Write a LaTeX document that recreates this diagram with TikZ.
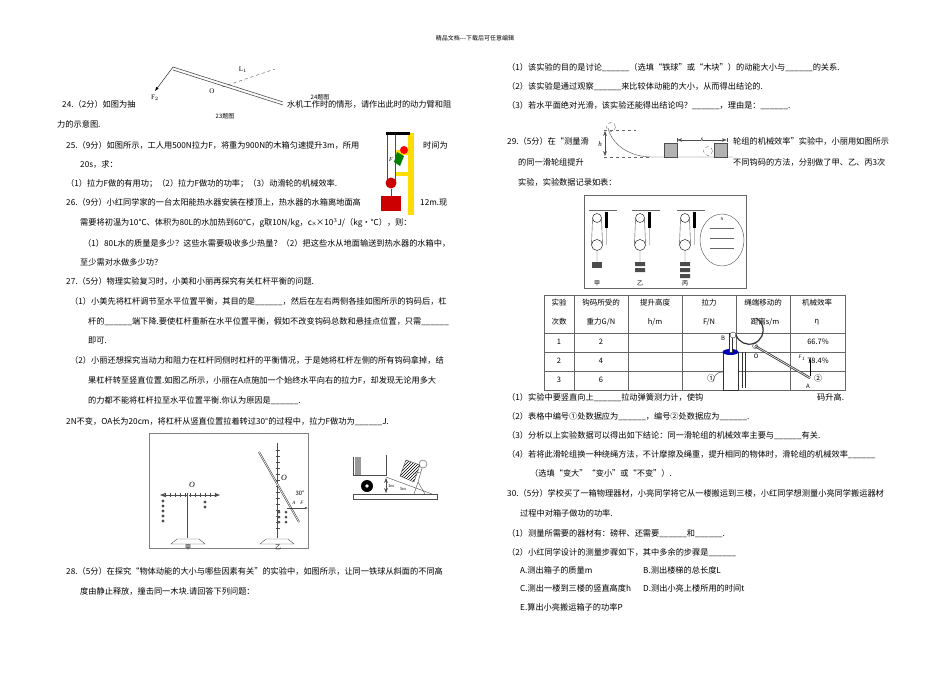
\documentclass[tikz,border=0pt]{standalone}
\usepackage{fontspec}
\setmainfont{Liberation Serif}
\newfontfamily\cjk{Noto Sans CJK SC}
\usetikzlibrary{arrows.meta,patterns}
\begin{document}
\begin{tikzpicture}[x=1pt,y=-1pt,
  t/.style={anchor=base west,inner sep=0pt,font=\cjk\fontsize{8.2}{9}\selectfont},
  sm/.style={inner sep=0pt,font=\cjk\fontsize{6}{6}\selectfont},
  fig/.style={draw=black!70,line width=0.6pt},
  cell/.style={inner sep=0pt,font=\cjk\fontsize{7.5}{8}\selectfont}]
\fill[white] (0,0) rectangle (950,672);
\useasboundingbox (0,0) rectangle (950,672);
\node[sm] (hdr) at (475,38) {精品文档---下载后可任意编辑};
% ---- fig 23/24
\coordinate (la) at (173,67); \coordinate (lb) at (283,102);
\draw[fig] (la) -- (lb); \draw[fig] ([yshift=-3]la) -- ([yshift=-3]lb);
\coordinate (dA) at (222,87); \coordinate (dB) at (275,69);
\draw[dashed,black!70] (dA) -- (dB);
\node[sm,font=\fontsize{7}{7}\selectfont] (L1) at (243,70) {L$_1$};
\node[sm,font=\fontsize{7}{7}\selectfont] (O1) at (212,91) {O};
\coordinate (f2) at (155,91);
\draw[-{Latex[length=4pt]},black] (la) -- (f2);
\node[sm,font=\fontsize{7}{7}\selectfont] (F2) at (155,98) {F$_2$};
\node[sm] (c24) at (320,97) {24题图};
\node[sm] (c23) at (225,116) {23题图};
\node[t] (l1) at (62,107) {24.（2分）如图为抽};
\node[t] (l1b) at (287,107) {水机工作时的情形，请作出此时的动力臂和阻};
\node[t] (l2) at (57,127) {力的示意图.};
\node[t] (l3) at (66,148) {25.（9分）如图所示，工人用500N拉力F，将重为900N的木箱匀速提升3m，所用};
\node[t] (l3b) at (423,148) {时间为};
\node[t] (l4) at (80,167) {20s，求：};
\node[t] (l5) at (66,186) {（1）拉力F做的有用功；（2）拉力F做功的功率；（3）动滑轮的机械效率.};
\node[t] (l6) at (66,205) {26.（9分）小红同学家的一台太阳能热水器安装在楼顶上，热水器的水箱离地面高};
\node[t] (l6b) at (420,205) {12m.现};
\node[t] (l7) at (80,225) {需要将初温为10℃、体积为80L的水加热到60℃，g取10N/kg，c{\fontsize{4}{4}\selectfont 水}×10$^3$J/（kg·℃），则：};
\node[t] (l8) at (83,246) {（1）80L水的质量是多少？这些水需要吸收多少热量？（2）把这些水从地面输送到热水器的水箱中，};
\node[t] (l9) at (80,265) {至少需对水做多少功？};
\node[t] (l10) at (66,284) {27.（5分）物理实验复习时，小美和小丽再探究有关杠杆平衡的问题.};
\node[t] (l11) at (70,304) {（1）小美先将杠杆调节至水平位置平衡，其目的是\_\_\_\_\_\_，然后在左右两侧各挂如图所示的钩码后，杠};
\node[t] (l12) at (88,324) {杆的\_\_\_\_\_\_端下降.要使杠杆重新在水平位置平衡，假如不改变钩码总数和悬挂点位置，只需\_\_\_\_\_\_};
\node[t] (l13) at (88,343) {即可.};
\node[t] (l14) at (70,363) {（2）小丽还想探究当动力和阻力在杠杆同侧时杠杆的平衡情况，于是她将杠杆左侧的所有钩码拿掉，结};
\node[t] (l15) at (88,383) {果杠杆转至竖直位置.如图乙所示，小丽在A点施加一个始终水平向右的拉力F，却发现无论用多大};
\node[t] (l16) at (88,403) {的力都不能将杠杆拉至水平位置平衡.你认为原因是\_\_\_\_\_\_.};
\node[t] (l17) at (66,424) {2N不变，OA长为20cm，将杠杆从竖直位置拉着转过30°的过程中，拉力F做功为\_\_\_\_\_\_J.};
% ---- worker pulley
\fill[yellow!80!orange] (408,133) rectangle (414,215);
\fill[yellow!80!orange] (396,150) rectangle (414,155);
\fill[yellow!80!orange] (396,172) rectangle (414,176);
\fill[black] (386,132) rectangle (410,135);
\draw[black!70] (387,135) -- (387,183) (395,135) -- (395,183);
\fill[red!80!black] (391,183) circle (5.5);
\fill[red!80!black] (381,196) rectangle (401,211);
\draw[black!70] (391,189) -- (391,196);
\fill[red] (404,150) circle (4);
\fill[green!50!black] (397,152) -- (404,156) -- (400,166) -- (394,162) -- cycle;
\node[sm,font=\itshape\fontsize{6}{6}\selectfont] (Fw) at (391,160) {F};
% ---- lever box
\draw[black!50] (149,433) rectangle (308,548);
\draw[<->,>=Stealth,fig] (160,495) -- (220,495);
\foreach \x in {165,170,...,215} \draw[black!70] (\x,493) -- (\x,497);
\draw[fig,double] (188,493) -- (188,538);
\draw[fill=white,draw=black!70] (177,539) -- (199,539) -- (205,544) -- (171,544) -- cycle;
\node[font=\itshape\fontsize{8}{8}\selectfont] (Oa) at (192,485) {O};
\foreach \y in {501,506,...,521} \fill[black!70] (163,\y) circle (1.6);
\foreach \y in {502,507} \fill[black!70] (205,\y) circle (1.6);
\node[sm] (jia) at (188,547) {甲};
\draw[fig,double] (278,443) -- (278,538);
\foreach \y in {450,456,...,530} \draw[black!70] (276,\y) -- (280,\y);
\draw[fig,double] (259,452) -- (299,522);
\draw[fill=white,draw=black!70] (266,539) -- (288,539) -- (294,544) -- (260,544) -- cycle;
\node[font=\itshape\fontsize{8}{8}\selectfont] (Ob) at (284,478) {O};
\node[sm] (d30) at (300,493) {30°};
\node[sm,font=\itshape\fontsize{5}{5}\selectfont] (Ab) at (294,503) {A};
\coordinate (Fs) at (287,508); \coordinate (Fe) at (308,508);
\draw[-{Latex[length=3pt]},black!70] (Fs) -- (Fe);
\node[sm,font=\itshape\fontsize{5}{5}\selectfont] (Fb) at (302,503) {F};
\foreach \y in {512,517,522} {\fill[black!70] (279,\y) circle (1.5); \fill[black!70] (286,\y) circle (1.5);}
\node[sm] (yi) at (278,547) {乙};
% ---- cart
\draw[black!70] (353,494) rectangle (437,499);
\fill[black!40] (355,457) rectangle (361,475);
\draw[black!70] (353,457) -- (353,475) -- (386,475) -- (386,455);
\fill[black] (367,486) circle (6); \fill[white] (367,486) circle (1.8);
\draw[black!70] (386,477) -- (432,494);
\draw[<->,>=Stealth,black!70] (386,478) -- (386,493);
\node[sm,font=\fontsize{4.5}{5}\selectfont] (m1) at (391,486) {1m};
\node[sm,font=\fontsize{4.5}{5}\selectfont] (m5) at (403,489) {5m};
\draw[black!70,pattern=north east lines] (400,476) -- (406,460) -- (420,465) -- (414,482) -- cycle;
\draw[black!70] (423,464) circle (4);
\draw[black!70] (422,468) -- (418,482) -- (425,494) (418,482) -- (414,494) (420,472) -- (413,474);
\node[t] (l18) at (66,574) {28.（5分）在探究“物体动能的大小与哪些因素有关”的实验中，如图所示，让同一铁球从斜面的不同高};
\node[t] (l19) at (80,594) {度由静止释放，撞击同一木块.请回答下列问题：};
% ---- right column
\node[t] (r1) at (507,70) {（1）该实验的目的是讨论\_\_\_\_\_\_（选填“铁球”或“木块”）的动能大小与\_\_\_\_\_\_的关系.};
\node[t] (r2) at (507,89) {（2）该实验是通过观察\_\_\_\_\_\_来比较体动能的大小，从而得出结论的.};
\node[t] (r3) at (507,108) {（3）若水平面绝对光滑，该实验还能得出结论吗？\_\_\_\_\_\_，理由是：\_\_\_\_\_\_.};
% slope
\draw[black!70] (608,128) .. controls (612,145) and (630,157) .. (652,157) -- (733,157);
\draw[dashed,black!60] (604,130) -- (636,130) (604,157) -- (652,157);
\draw[<->,>=Stealth,black!70] (605,131) -- (605,156);
\node[sm,font=\itshape\fontsize{7}{7}\selectfont] (hh) at (600,144) {h};
\draw[dashed,black!60] (611,127) circle (4.5) (708,151) circle (4.5);
\draw[fill=black!30,draw=black!70] (664,143) rectangle (677,157) (714,143) rectangle (727,157);
\draw[|<->|,>=Stealth,black!70] (677,140) -- (727,140);
\node[sm,fill=white,font=\itshape\fontsize{7}{7}\selectfont] (ss) at (702,140) {s};
\node[t] (r4) at (507,144) {29.（5分）在“测量滑};
\node[t] (r4b) at (733,144) {轮组的机械效率”实验中，小丽用如图所示};
\node[t] (r5) at (518,165) {的同一滑轮组提升};
\node[t] (r5b) at (733,165) {不同钩码的方法，分别做了甲、乙、丙3次};
\node[t] (r6) at (518,185) {实验，实验数据记录如表：};
% pulley photo
\draw[black!60] (584,195) rectangle (746,288);
\foreach \x in {597,640,685} {
  \draw[black!60] (\x-8,210) -- (\x+20,210);
  \draw[black] (\x,218) circle (4.5) (\x,245) circle (5.5);
  \fill[black] (\x+8,212) rectangle (\x+11,228);
  \draw[black!70] (\x-4.5,218) -- (\x-5.5,245) (\x+4.5,218) -- (\x+5.5,245) (\x+9.5,228) -- (\x+9.5,245) (\x,251) -- (\x,262);
}
\fill[black!70] (592,262) rectangle (602,268);
\fill[black!70] (635,262) rectangle (645,266) (635,268) rectangle (645,272);
\fill[black!70] (680,262) rectangle (690,266) (680,268) rectangle (690,272) (680,274) rectangle (690,278);
\draw[black!70] (722,240) ellipse (22 and 26);
\node[sm,font=\fontsize{4}{4}\selectfont] (NN) at (722,219) {N};
\foreach \y in {228,238,248} \draw[black!60] (710,\y) -- (734,\y);
\node[sm] (p1) at (597,283) {甲}; \node[sm] (p2) at (640,283) {乙}; \node[sm] (p3) at (685,283) {丙};
% table
\draw[black!60] (544,295) rectangle (845,390);
\foreach \x in {574,628,682,736,790} \draw[black!60] (\x,295) -- (\x,390);
\foreach \y in {333,352,371} \draw[black!60] (544,\y) -- (845,\y);
\node[cell] (h1a) at (559,303) {实验}; \node[cell] (h1b) at (559,322) {次数};
\node[cell] (h2a) at (601,303) {钩码所受的}; \node[cell] (h2b) at (601,322) {重力G/N};
\node[cell] (h3a) at (655,303) {提升高度}; \node[cell] (h3b) at (655,322) {h/m};
\node[cell] (h4a) at (709,303) {拉力}; \node[cell] (h4b) at (709,322) {F/N};
\node[cell] (h5a) at (763,303) {绳端移动的}; \node[cell] (h5b) at (765,322) {距离s/m};
\node[cell] (h6a) at (817,303) {机械效率}; \node[cell] (h6b) at (817,322) {η};
\node[cell] (a1) at (559,342) {1}; \node[cell] (b1) at (601,342) {2}; \node[cell] (e1) at (818,342) {66.7\%};
\node[cell] (a2) at (559,361) {2}; \node[cell] (b2) at (601,361) {4}; \node[cell] (e2) at (818,361) {78.4\%};
\node[cell] (a3) at (559,380) {3}; \node[cell] (b3) at (601,380) {6};
% pump
\draw[black!80,fill=white] (723,352) rectangle (738,390);
\fill[blue!70!black] (730.5,352) ellipse (8 and 3);
\draw[black!80,fill=white] (729,333) rectangle (732,352);
\draw[black!80,fill=white] (733,335) circle (3);
\draw[black!80,line width=1.2pt] (736,335) arc (160:-60:14);
\coordinate (Op) at (755,346); \coordinate (Ap) at (810,378);
\draw[black!80,double,line width=0.8pt] (Op) -- (Ap);
\draw[black!80] (Op) circle (2.5);
\draw[black!80] (742,352) -- (742,388) (745,352) -- (745,388);
\draw[black!80] (723,372) .. controls (716,372) and (714,376) .. (713,382);
\coordinate (F1a) at (810,376); \coordinate (F1b) at (810,358);
\draw[-{Latex[length=3pt]},black] (F1a) -- (F1b);
\node[sm] (Bp) at (723,338) {B}; \node[sm] (Opl) at (756,356) {O};
\node[sm] (Apl) at (808,386) {A}; \node[sm,font=\itshape\fontsize{5}{5}\selectfont] (F1l) at (802,358) {F$_1$};
\node[sm,font=\cjk\fontsize{8}{8}\selectfont] (c1) at (711,378) {①}; \node[sm,font=\cjk\fontsize{8}{8}\selectfont] (c2) at (818,378) {②};
\node[t] (r7) at (507,400) {（1）实验中要竖直向上\_\_\_\_\_\_拉动弹簧测力计，使钩};
\node[t] (r7b) at (817,400) {码升高.};
\node[t] (r8) at (507,419) {（2）表格中编号①处数据应为\_\_\_\_\_\_，编号②处数据应为\_\_\_\_\_\_.};
\node[t] (r9) at (507,438) {（3）分析以上实验数据可以得出如下结论：同一滑轮组的机械效率主要与\_\_\_\_\_\_有关.};
\node[t] (r10) at (507,457) {（4）若将此滑轮组换一种绕绳方法，不计摩擦及绳重，提升相同的物体时，滑轮组的机械效率\_\_\_\_\_\_};
\node[t] (r11) at (530,476) {（选填“变大”“变小”或“不变”）.};
\node[t] (r12) at (507,496) {30.（5分）学校买了一箱物理器材，小亮同学将它从一楼搬运到三楼，小红同学想测量小亮同学搬运器材};
\node[t] (r13) at (520,516) {过程中对箱子做功的功率.};
\node[t] (r14) at (507,536) {（1）测量所需要的器材有：磅秤、还需要\_\_\_\_\_\_和\_\_\_\_\_\_.};
\node[t] (r15) at (507,555) {（2）小红同学设计的测量步骤如下，其中多余的步骤是\_\_\_\_\_\_};
\node[t] (r16) at (520,573) {A.测出箱子的质量m};
\node[t] (r16b) at (643,573) {B.测出楼梯的总长度L};
\node[t] (r17) at (520,591) {C.测出一楼到三楼的竖直高度h};
\node[t] (r17b) at (643,591) {D.测出小亮上楼所用的时间t};
\node[t] (r18) at (520,610) {E.算出小亮搬运箱子的功率P};
\end{tikzpicture}
\end{document}
